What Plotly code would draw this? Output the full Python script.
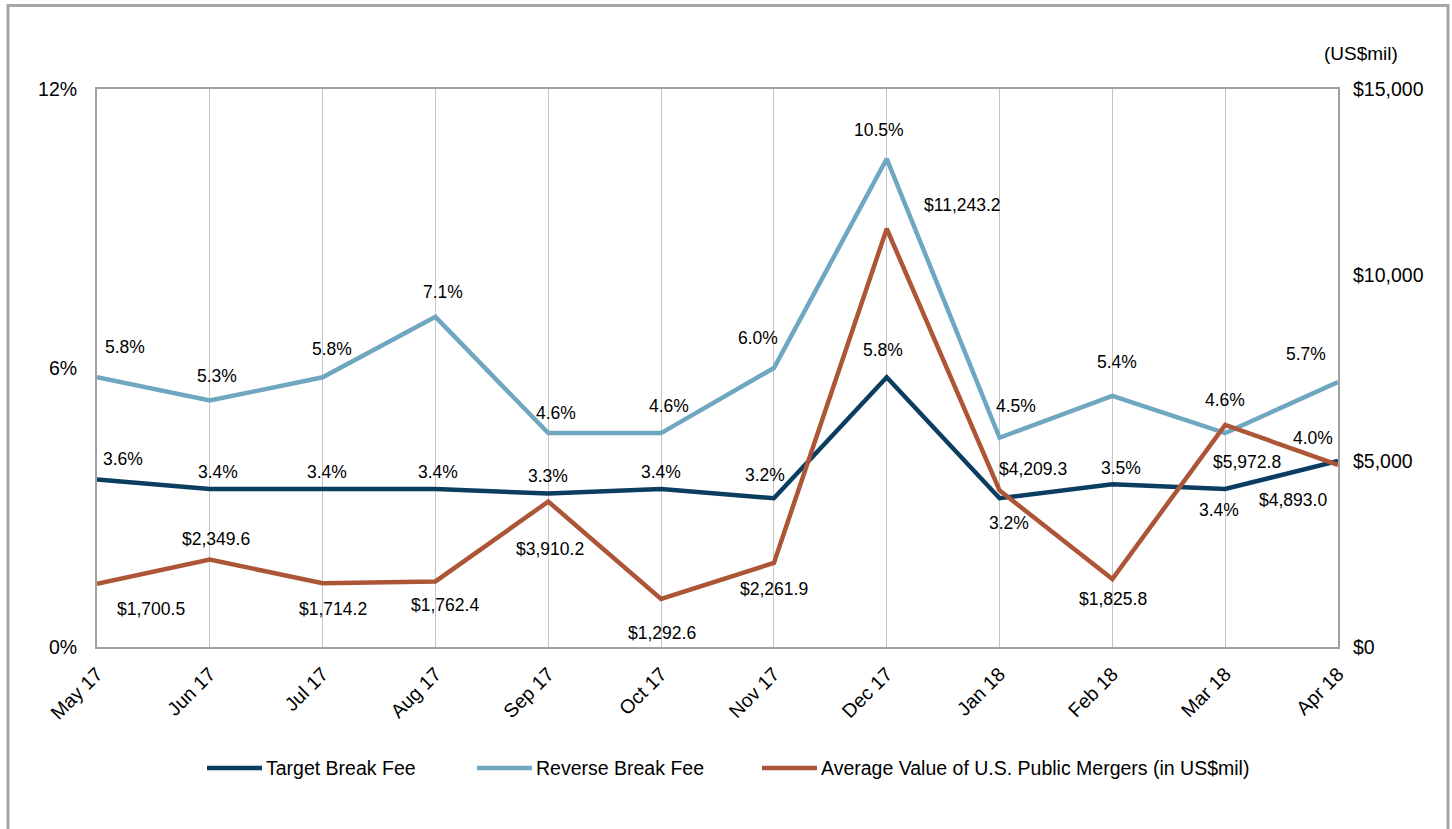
import plotly.graph_objects as go

# Monthly series
months = ["May 17", "Jun 17", "Jul 17", "Aug 17", "Sep 17", "Oct 17",
          "Nov 17", "Dec 17", "Jan 18", "Feb 18", "Mar 18", "Apr 18"]
target_fee = [3.6, 3.4, 3.4, 3.4, 3.3, 3.4, 3.2, 5.8, 3.2, 3.5, 3.4, 4.0]
reverse_fee = [5.8, 5.3, 5.8, 7.1, 4.6, 4.6, 6.0, 10.5, 4.5, 5.4, 4.6, 5.7]
avg_merger_value = [1700.5, 2349.6, 1714.2, 1762.4, 3910.2, 1292.6,
                    2261.9, 11243.2, 4209.3, 1825.8, 5972.8, 4893.0]

# Left (percent) and right (US$mil) axis ticks
pct_ticks = [0, 6, 12]
pct_tick_text = ["0%", "6%", "12%"]
usd_ticks = [0, 5000, 10000, 15000]
usd_tick_text = ["$0", "$5,000", "$10,000", "$15,000"]

# Colours
C_TARGET = "#0a3d5f"
C_REVERSE = "#6fa7c0"
C_AVG = "#ac5637"
C_FRAME = "#a0a0a0"
C_GRID = "#c4c4c4"
FONT = "Liberation Sans, Arial, sans-serif"

# Data label offsets in pixels (dx right, dy down) relative to each point
target_offsets = [(26, -21), (8, -17), (4, -17), (3, -17), (0, -18), (0, -17),
                  (-9, -23), (-4, -27), (9, 25), (9, -16), (-6, 21), (-25, -23)]
reverse_offsets = [(28, -30), (7, -25), (9, -28), (8, -25), (8, -20), (8, -27),
                   (-16, -30), (-8, -29), (16, -32), (5, -34), (0, -33), (-32, -28)]
avg_offsets = [(54, 25), (6, -21), (10, 26), (10, 24), (2, 47), (1, 34),
               (0, 26), (76, -24), (33, -21), (1, 20), (22, 37), (-45, 35)]

W, H = 1452, 829
L, R, T, B = 97, 1338, 89, 647  # plot-area pixel bounds


def px(x):
    return (x - L) / (R - L)


def py(y):
    return (B - y) / (B - T)


fig = go.Figure()
fig.add_trace(go.Scatter(x=months, y=target_fee, mode="lines",
                         line=dict(color=C_TARGET, width=4.5),
                         name="Target Break Fee"))
fig.add_trace(go.Scatter(x=months, y=reverse_fee, mode="lines",
                         line=dict(color=C_REVERSE, width=4.5),
                         name="Reverse Break Fee"))
fig.add_trace(go.Scatter(x=months, y=avg_merger_value, mode="lines", yaxis="y2",
                         line=dict(color=C_AVG, width=4.5),
                         name="Average Value of U.S. Public Mergers (in US$mil)"))

annotations = []
label_font = dict(family=FONT, size=17.5, color="#000000")
for m, v, (dx, dy) in zip(months, target_fee, target_offsets):
    annotations.append(dict(x=m, y=v, xref="x", yref="y", text=f"{v:.1f}%",
                            showarrow=False, xshift=dx, yshift=-dy, font=label_font))
for m, v, (dx, dy) in zip(months, reverse_fee, reverse_offsets):
    annotations.append(dict(x=m, y=v, xref="x", yref="y", text=f"{v:.1f}%",
                            showarrow=False, xshift=dx, yshift=-dy, font=label_font))
for m, v, (dx, dy) in zip(months, avg_merger_value, avg_offsets):
    annotations.append(dict(x=m, y=v, xref="x", yref="y2", text=f"${v:,.1f}",
                            showarrow=False, xshift=dx, yshift=-dy, font=label_font))

# Unit note above the right axis
annotations.append(dict(x=px(1361), y=py(54), xref="paper", yref="paper",
                        text="(US$mil)", showarrow=False,
                        xanchor="center", yanchor="middle",
                        font=dict(family=FONT, size=19, color="#000000")))

# Custom legend: line sample + text
shapes = []
legend_items = [("Target Break Fee", C_TARGET, 207, 262),
                ("Reverse Break Fee", C_REVERSE, 477, 532),
                ("Average Value of U.S. Public Mergers (in US$mil)", C_AVG, 762, 817)]
leg_y = 768
for name, color, x0, x1 in legend_items:
    shapes.append(dict(type="line", xref="paper", yref="paper",
                       x0=px(x0), x1=px(x1), y0=py(leg_y), y1=py(leg_y),
                       line=dict(color=color, width=4.5)))
    annotations.append(dict(x=px(x1 + 2), y=py(leg_y), xref="paper", yref="paper",
                            text=name, showarrow=False, xanchor="left", yanchor="middle",
                            font=dict(family=FONT, size=19.5, color="#000000")))

# Outer frame around the whole figure
shapes.append(dict(type="rect", xref="paper", yref="paper",
                   x0=px(8), x1=px(1448), y0=py(5.5), y1=py(900),
                   line=dict(color="#a6a6a6", width=3), layer="below"))

tick_font = dict(family=FONT, size=19.5, color="#000000")
fig.update_layout(
    width=W, height=H,
    margin=dict(l=L, r=W - R, t=T, b=H - B, pad=0),
    paper_bgcolor="white", plot_bgcolor="white",
    showlegend=False,
    font=dict(family=FONT, size=18, color="#000000"),
    xaxis=dict(type="category", range=[0, len(months) - 1],
               showgrid=True, gridcolor=C_GRID, gridwidth=1,
               showline=True, linecolor=C_FRAME, linewidth=2, mirror=True,
               ticks="", tickangle=-45, tickfont=tick_font,
               ticklabelstandoff=6, zeroline=False),
    yaxis=dict(range=[0, 12], tickvals=pct_ticks, ticktext=pct_tick_text,
               showgrid=False, zeroline=False,
               showline=True, linecolor=C_FRAME, linewidth=2, mirror=True,
               ticks="", tickfont=tick_font, ticklabelstandoff=14),
    yaxis2=dict(range=[0, 15000], tickvals=usd_ticks, ticktext=usd_tick_text,
                overlaying="y", side="right",
                showgrid=False, zeroline=False, showline=False,
                ticks="", tickfont=tick_font, ticklabelstandoff=14),
    annotations=annotations,
    shapes=shapes,
)

fig.write_html("out.html")
